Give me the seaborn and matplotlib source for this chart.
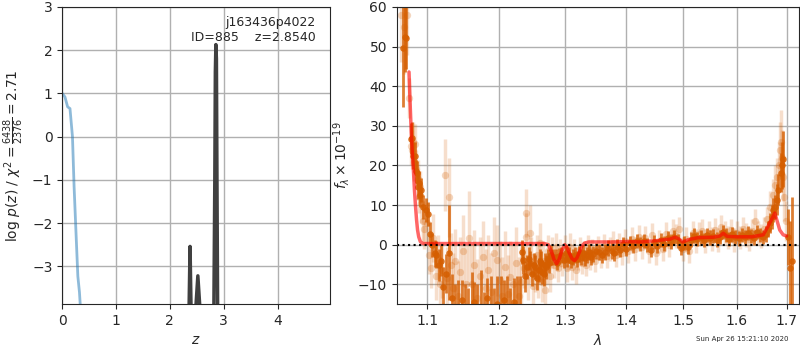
import numpy as np
import pandas as pd
import matplotlib
matplotlib.use("Agg")
import matplotlib.pyplot as plt
from matplotlib.ticker import FixedLocator, FormatStrFormatter, NullLocator
import seaborn as sns

# --- p(z) panel ---
z_first = [0.0, 0.05, 0.10, 0.144, 0.19, 0.22, 0.256, 0.29, 0.32, 0.34, 0.36]
logp_first = [1.0, 0.92, 0.69, 0.65, 0.0, -1.15, -2.23, -3.23, -3.6, -4.0, -4.5]

z_fit = [2.30, 2.35, 2.375, 2.40, 2.44, 2.47, 2.52, 2.57, 2.60, 2.80,
         2.835, 2.845, 2.855, 2.865, 2.875, 2.90]
logp_fit = [-7.0, -4.5, -2.54, -4.5, -6.0, -4.2, -3.22, -4.2, -6.0, -7.0,
            -1.0, 1.5, 2.13, 1.8, -1.0, -7.0]

# --- spectrum panel (binned) ---
lam_bin = [1.0680, 1.0705, 1.0725, 1.0789, 1.0803, 1.0820, 1.0836, 1.0852, 1.0868, 1.0882,
           1.0894, 1.0908, 1.0922, 1.0950, 1.0981, 1.1013, 1.1035, 1.1071, 1.1101, 1.1125,
           1.1155, 1.1185, 1.1214, 1.1258, 1.1303, 1.1336, 1.1375, 1.1420, 1.1470, 1.1520,
           1.1560, 1.1610, 1.1650, 1.1690, 1.1740, 1.1780, 1.1830, 1.1880, 1.1930, 1.1980,
           1.2030, 1.2080, 1.2120, 1.2170, 1.2220, 1.2270, 1.2310, 1.2339, 1.2360, 1.2390,
           1.2415, 1.2440, 1.2460, 1.2490, 1.2515, 1.2540, 1.2565, 1.2590, 1.2610, 1.2630,
           1.2650, 1.2670, 1.2690, 1.2710, 1.2730, 1.2750, 1.2780, 1.2810, 1.2855, 1.2880,
           1.2910, 1.2945, 1.2980, 1.3010, 1.3039, 1.3070, 1.3100, 1.3130, 1.3157, 1.3190,
           1.3220, 1.3254, 1.3290, 1.3320, 1.3351, 1.3390, 1.3420, 1.3450, 1.3500, 1.3550,
           1.3600, 1.3650, 1.3700, 1.3755, 1.3800, 1.3850, 1.3900, 1.3950, 1.4000, 1.4060,
           1.4120, 1.4180, 1.4240, 1.4300, 1.4360, 1.4420, 1.4480, 1.4540, 1.4600, 1.4660,
           1.4720, 1.4780, 1.4840, 1.4900, 1.4960, 1.5020, 1.5080, 1.5140, 1.5200, 1.5260,
           1.5320, 1.5380, 1.5440, 1.5500, 1.5560, 1.5620, 1.5680, 1.5740, 1.5800, 1.5860,
           1.5920, 1.5980, 1.6040, 1.6100, 1.6160, 1.6220, 1.6280, 1.6340, 1.6400, 1.6460,
           1.6520, 1.6580, 1.6630, 1.6660, 1.6700, 1.6730, 1.6765, 1.6800, 1.6830, 1.6880,
           1.6900, 1.6930, 1.7020, 1.7070, 1.7110]
flux_bin = [49.7, 52.5, 52.3, 26.8, 27.0, 22.5, 22.4, 18.5, 18.2, 14.5,
            15.6, 12.5, 13.9, 9.5, 8.8, 7.8, 2.7, -0.1, -2.2, -2.5,
            -5.2, -4.0, -10.7, -7.3, -2.0, -13.5, -17.0, -18.0, -14.0, -19.0,
            -17.0, -16.0, -14.5, -18.0, -16.5, -20.0, -13.5, -17.0, -19.0, -15.0,
            -18.0, -14.0, -17.0, -19.0, -14.5, -18.0, -17.0, -1.8, -3.9, -8.0,
            -5.6, -3.5, -4.7, -7.3, -5.0, -5.6, -8.5, -6.4, -4.0, -4.7,
            -6.8, -7.3, -5.0, -5.6, -3.5, -4.7, -2.5, -3.2, -3.1, -4.5,
            -2.8, -2.6, -3.8, -2.0, -3.5, -2.5, -4.0, -3.0, -2.6, -3.6,
            -2.3, -3.1, -2.0, -3.3, -2.6, -1.8, -3.0, -2.4, -1.5, -1.8,
            -2.7, -1.8, -0.8, -1.5, -2.2, -0.5, -1.3, 0.2, -1.0, 0.5,
            -0.3, 0.9, 0.2, 1.0, 0.0, -1.3, 0.6, -0.4, 1.2, 0.3,
            1.6, 0.8, 2.0, 1.0, -0.8, 0.4, -0.5, 1.3, 2.3, 1.5,
            2.0, 1.2, 2.4, 1.8, 2.2, 1.3, 2.0, 3.3, 2.4, 1.5,
            2.6, 2.0, 1.6, 2.5, 2.0, 3.0, 2.2, 1.8, 3.2, 2.4,
            2.0, 2.8, 4.0, 5.4, 7.0, 8.8, 9.5, 11.4, 13.9, 18.2,
            20.0, 21.6, 2.0, -6.0, -4.0]
err_bin = [15, 9, 8, 4, 4, 3.5, 3.5, 3, 3, 3,
           3, 3, 3, 3, 3, 3, 3, 3, 3.5, 3.5,
           4, 4, 5, 5, 12, 6, 7, 9, 5, 9,
           6, 9, 5, 8, 10, 8, 5, 9, 8, 7,
           10, 5, 9, 8, 6, 10, 9, 3, 3.5, 4,
           3, 3, 3, 3, 3, 3, 3, 3, 3, 3,
           3, 3, 3, 3, 2.5, 2.5, 2.5, 2, 2, 2,
           2, 2, 2, 2, 2, 2, 2, 2, 2, 2,
           2, 2, 2, 2, 2, 2, 2, 2, 2, 2,
           2, 2, 2, 2, 2, 2, 1.8, 1.8, 1.8, 1.8,
           1.8, 1.8, 1.8, 1.8, 1.8, 1.8, 1.8, 1.8, 1.8, 1.8,
           1.8, 1.8, 1.8, 1.8, 1.8, 1.8, 1.8, 1.8, 1.8, 1.8,
           1.8, 1.8, 1.8, 1.8, 1.8, 1.8, 1.8, 1.8, 1.8, 1.8,
           1.8, 1.8, 1.8, 1.8, 1.8, 1.8, 1.8, 1.8, 1.8, 1.8,
           1.8, 2, 2, 2.5, 3, 3, 3, 4, 4, 5,
           6, 7, 7, 12, 16]

# --- spectrum panel (unbinned, faint) ---
lam_raw = [1.0660, 1.0695, 1.0740, 1.0765, 1.0785, 1.0800, 1.0815, 1.0830, 1.0845, 1.0858,
           1.0875, 1.0890, 1.0905, 1.0925, 1.0945, 1.0965, 1.0995, 1.1025, 1.1055, 1.1085,
           1.1115, 1.1145, 1.1175, 1.1205, 1.1238, 1.1270, 1.1297, 1.1320, 1.1350, 1.1385,
           1.1420, 1.1450, 1.1490, 1.1530, 1.1570, 1.1610, 1.1650, 1.1690, 1.1730, 1.1770,
           1.1810, 1.1850, 1.1890, 1.1930, 1.1970, 1.2010, 1.2050, 1.2090, 1.2130, 1.2170,
           1.2210, 1.2250, 1.2290, 1.2330, 1.2370, 1.2400, 1.2405, 1.2430, 1.2460, 1.2480,
           1.2510, 1.2530, 1.2560, 1.2580, 1.2600, 1.2620, 1.2640, 1.2660, 1.2690, 1.2720,
           1.2740, 1.2770, 1.2800, 1.2830, 1.2860, 1.2890, 1.2920, 1.2960, 1.2995, 1.3025,
           1.3055, 1.3085, 1.3115, 1.3145, 1.3175, 1.3205, 1.3240, 1.3270, 1.3300, 1.3335,
           1.3370, 1.3405, 1.3440, 1.3475, 1.3525, 1.3575, 1.3625, 1.3675, 1.3725, 1.3780,
           1.3825, 1.3875, 1.3925, 1.3975, 1.4030, 1.4090, 1.4150, 1.4210, 1.4270, 1.4330,
           1.4390, 1.4450, 1.4510, 1.4570, 1.4630, 1.4690, 1.4750, 1.4810, 1.4870, 1.4930,
           1.4990, 1.5050, 1.5110, 1.5170, 1.5230, 1.5290, 1.5350, 1.5410, 1.5470, 1.5530,
           1.5590, 1.5650, 1.5710, 1.5770, 1.5830, 1.5890, 1.5950, 1.6010, 1.6070, 1.6130,
           1.6190, 1.6250, 1.6310, 1.6370, 1.6430, 1.6490, 1.6550, 1.6610, 1.6670, 1.6720,
           1.6760, 1.6800, 1.6840, 1.6865, 1.6885, 1.6910, 1.6935, 1.6955, 1.6980]
flux_raw = [58.0, 55.0, 58.0, 37.0, 25.0, 24.0, 26.0, 21.0, 25.5, 19.0,
            16.5, 12.0, 14.5, 10.5, 6.0, 4.0, 5.5, -2.5, -6.0, 1.7,
            -8.0, -3.5, -10.0, -6.5, 17.6, -8.5, 12.0, -5.0, -11.0, -4.0,
            -13.0, -7.0, -1.5, -10.0, 1.6, -9.8, -5.2, -13.5, -8.0, -3.0,
            -11.0, -6.5, -12.0, -2.0, -3.9, -9.0, -13.0, -5.6, -12.5, -8.1,
            -10.0, -4.5, -13.0, -9.5, -6.0, 2.0, 8.0, -9.0, 3.0, -3.0,
            -10.5, -7.0, -2.5, -8.5, -5.0, 0.5, -9.5, -4.0, -11.5, -6.0,
            -1.5, -8.0, -2.0, -5.0, -0.5, -6.0, -2.0, -4.5, -1.0, -6.0,
            -3.0, -0.5, -5.5, -2.0, -6.5, -3.5, -1.0, -4.5, -2.0, -5.0,
            -0.5, -3.5, -1.5, -4.0, -0.8, -3.0, -0.3, -2.8, -1.0, 0.5,
            -2.5, 0.0, -2.0, 1.0, -1.5, 1.5, -1.0, 2.0, -0.5, 1.8,
            -1.5, 2.5, -2.0, 0.8, -1.0, 2.8, 0.0, 3.5, 2.2, 4.0,
            -1.0, 1.5, -1.5, 3.0, 1.0, 2.8, 3.5, 1.0, 3.0, 1.5,
            3.8, 1.2, 4.5, 3.0, 1.8, 3.6, 1.2, 3.0, 1.8, 4.0,
            2.4, 1.5, 3.5, 6.0, 3.0, 2.2, 4.0, 6.5, 9.5, 12.5,
            15.0, 17.0, 20.0, 24.0, 26.0, 22.0, 17.0, 12.0, 6.0]
err_raw = [12, 12, 10, 5, 5, 5, 5, 5, 5, 5,
           5, 4, 4, 5, 5, 5, 5, 5, 5, 6,
           6, 6, 7, 7, 9, 8, 10, 8, 9, 8,
           9, 9, 9, 10, 12, 10, 9, 10, 10, 9,
           10, 9, 10, 9, 9, 10, 10, 9, 10, 9,
           10, 9, 10, 9, 5, 6, 6, 5, 7, 5,
           5, 5, 5, 5, 5, 5, 5, 5, 5, 4,
           4, 4, 4, 3.5, 3.5, 3.5, 3.5, 3.5, 3.5, 3.5,
           3.5, 3.5, 3.5, 3.5, 3.5, 3, 3, 3, 3, 3,
           3, 3, 3, 3, 3, 3, 3, 3, 3, 3,
           3, 3, 3, 3, 3, 3, 3, 3, 3, 3,
           3, 3, 3, 3, 3, 3, 3, 3, 3, 3,
           3, 3, 3, 3, 3, 3, 3, 3, 3, 3,
           3, 3, 3, 3, 3, 3, 3, 3, 3, 3,
           3, 3, 3, 3, 3, 3, 3, 3, 4, 4,
           5, 5, 6, 7, 8, 7, 6, 6, 5]

# --- best-fit model ---
lam_model = [1.0763, 1.0778, 1.0792, 1.0807, 1.0822, 1.0835, 1.0848, 1.0862, 1.0875, 1.0890,
             1.0911, 1.0940, 1.0968, 1.1200, 1.1600, 1.2000, 1.2400, 1.2680, 1.2740, 1.2790,
             1.2830, 1.2870, 1.2910, 1.2950, 1.2995, 1.3030, 1.3070, 1.3110, 1.3152, 1.3190,
             1.3230, 1.3270, 1.3310, 1.3380, 1.3600, 1.3800, 1.4000, 1.4240, 1.4500, 1.4760,
             1.4850, 1.4920, 1.4990, 1.5100, 1.5280, 1.5560, 1.5680, 1.5745, 1.5820, 1.6000,
             1.6300, 1.6525, 1.6620, 1.6725, 1.6760, 1.6790, 1.6860, 1.6930, 1.7000]
flux_model = [43.6, 35.5, 28.3, 23.0, 18.2, 13.5, 9.7, 6.2, 3.7, 2.0,
              0.8, 0.35, 0.3, 0.3, 0.3, 0.3, 0.3, 0.3, 0.0, -1.8,
              -3.8, -4.8, -3.6, -1.5, 0.0, -0.6, -2.2, -3.5, -4.0, -3.3,
              -1.8, -0.3, 0.4, 0.7, 0.7, 0.7, 0.8, 0.7, 1.0, 1.4,
              1.9, 1.5, 0.7, 1.3, 1.8, 1.9, 2.2, 2.9, 2.1, 2.0,
              2.0, 2.5, 4.6, 7.1, 8.0, 6.7, 3.7, 2.5, 2.2]

root_name = "j163436p4022"
obj_id = 885
z_best = 2.8540
chi2, dof = 6438, 2376
stamp = "Sun Apr 26 15:21:10 2020"

sns.set_style("ticks")
plt.rcParams["font.family"] = ["DejaVu Sans"]
plt.rcParams["font.size"] = 10

fig = plt.figure(figsize=(8, 3.5), dpi=100)
ax1 = fig.add_axes([0.0778, 0.131, 0.335, 0.849])
ax2 = fig.add_axes([0.4959, 0.131, 0.503, 0.849])

col = "#D55E00"

# p(z)
sns.lineplot(x=z_first, y=logp_first, ax=ax1, color="tab:blue", alpha=0.5,
             linewidth=2, sort=False, estimator=None)
sns.lineplot(x=z_fit, y=logp_fit, ax=ax1, color="0.25", linewidth=2.5,
             sort=False, estimator=None)
ax1.set_xlim(0, 4.98)
ax1.set_ylim(-3.875, 3)
ax1.set_xticks([0, 1, 2, 3, 4])
ax1.set_yticks([-3, -2, -1, 0, 1, 2, 3])
ax1.grid(True, color="#b0b0b0", linewidth=1)
ax1.set_xlabel("$z$")
ax1.set_ylabel(r"log $p(z)$ / $\chi^2=\frac{%d}{%d}=%.2f$" % (chi2, dof, chi2 / dof))
ax1.text(0.945, 0.97, "%s\nID=%d    z=%.4f" % (root_name, obj_id, z_best),
         ha="right", va="top", transform=ax1.transAxes, fontsize=9)

# spectrum
ax2.errorbar(lam_raw, flux_raw, yerr=err_raw, fmt="none", ecolor=col,
             alpha=0.2, elinewidth=2.5)
sns.scatterplot(x=lam_raw, y=flux_raw, ax=ax2, color=col, alpha=0.25, s=28,
                linewidth=0)
ax2.errorbar(lam_bin, flux_bin, yerr=err_bin, fmt="none", ecolor=col,
             alpha=0.8, elinewidth=2)
sns.scatterplot(x=lam_bin, y=flux_bin, ax=ax2, color=col, alpha=0.85, s=22,
                linewidth=0)
sns.lineplot(x=lam_model, y=flux_model, ax=ax2, color="red", alpha=0.6,
             linewidth=2.5, sort=False, estimator=None)
ax2.axhline(0, color="k", linestyle=":", linewidth=1.5)

ax2.set_xscale("log")
ax2.set_xlim(1.0604, 1.726)
ax2.set_ylim(-15, 60)
ax2.xaxis.set_major_locator(FixedLocator([1.1, 1.2, 1.3, 1.4, 1.5, 1.6, 1.7]))
ax2.xaxis.set_major_formatter(FormatStrFormatter("%.1f"))
ax2.xaxis.set_minor_locator(NullLocator())
ax2.set_yticks([-10, 0, 10, 20, 30, 40, 50, 60])
ax2.grid(True, color="#b0b0b0", linewidth=1)
ax2.set_xlabel(r"$\lambda$")
ax2.set_ylabel(r"$f_\lambda\times10^{-19}$")

fig.text(0.985, 0.031, stamp, ha="right", va="center", fontsize=5)

fig.savefig("out.png", dpi=100)
